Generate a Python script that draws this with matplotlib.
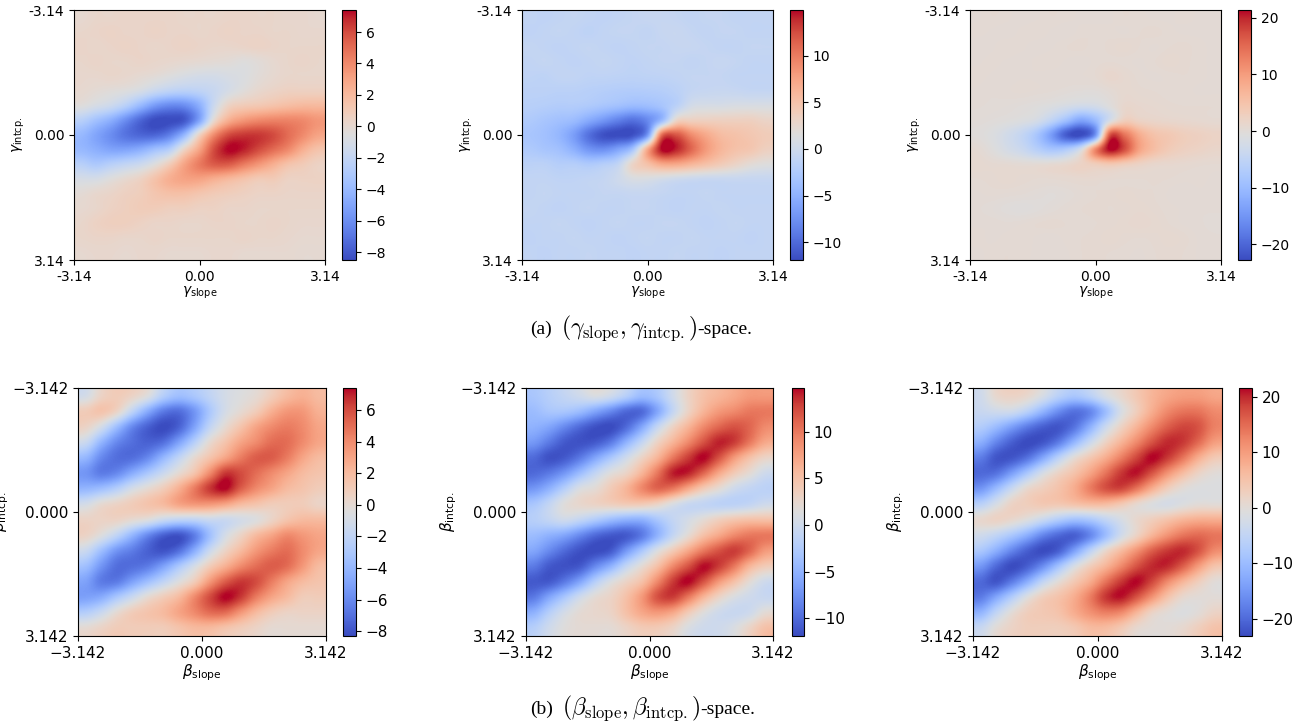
import matplotlib.pyplot as plt
from matplotlib.ticker import MultipleLocator
import numpy as np

PI = np.pi

# sampled gradient fields, rows run from -pi (top) to +pi (bottom)
gamma_1 = [
    [0.0, 0.2, 0.2, 0.3, 0.3, 0.3, 0.3, 0.2, 0.2, 0.2, 0.3, 0.3, 0.2, 0.2, 0.1, 0.1, 0.0],
    [0.2, 0.3, 0.4, 0.3, 0.3, 0.4, 0.3, 0.3, 0.2, 0.3, 0.4, 0.3, 0.3, 0.2, 0.2, 0.1, 0.1],
    [0.3, 0.2, 0.3, 0.4, 0.3, 0.2, 0.3, 0.4, 0.3, 0.2, 0.2, 0.3, 0.4, 0.3, 0.2, 0.2, 0.2],
    [0.2, 0.3, 0.2, 0.2, 0.3, 0.2, 0.1, 0.0, -0.1, -0.2, -0.3, -0.5, -0.3, 0.0, 0.2, 0.3, 0.2],
    [0.1, 0.1, 0.2, 0.1, -0.1, -0.3, -0.6, -0.9, -1.1, -1.1, -0.9, -0.7, -0.3, 0.0, 0.2, 0.2, 0.2],
    [0.0, -0.2, -0.4, -0.6, -1.0, -1.7, -2.2, -2.4, -2.2, -1.7, -1.0, -0.4, 0.1, 0.4, 0.6, 0.6, 0.6],
    [-0.5, -1.0, -1.5, -2.5, -4.0, -5.5, -6.2, -6.0, -4.5, -1.5, 0.5, 1.0, 1.2, 1.5, 1.8, 2.0, 2.0],
    [-2.5, -3.5, -4.5, -6.0, -7.5, -8.5, -8.5, -8.0, -5.0, 0.0, 2.5, 3.5, 4.0, 4.2, 4.2, 4.0, 3.5],
    [-4.0, -5.0, -6.0, -7.0, -7.5, -7.5, -6.5, -4.0, 0.5, 4.0, 6.0, 6.5, 6.5, 6.0, 5.0, 4.0, 3.0],
    [-4.0, -4.5, -5.0, -5.0, -4.5, -3.5, -2.5, 0.5, 3.0, 6.0, 7.4, 7.0, 6.0, 5.0, 4.0, 2.5, 1.5],
    [-2.5, -3.0, -2.5, -2.0, -1.5, -0.5, 1.0, 3.0, 4.5, 5.5, 5.5, 4.5, 3.5, 2.5, 1.5, 1.0, 0.5],
    [-1.0, -1.0, -0.5, 0.0, 0.5, 1.5, 2.5, 3.0, 3.0, 2.5, 2.0, 1.5, 1.0, 1.0, 0.5, 0.5, 0.5],
    [-0.2, 0.1, 0.3, 0.6, 0.8, 1.3, 1.6, 1.6, 1.3, 1.0, 0.8, 0.6, 0.4, 0.4, 0.3, 0.3, 0.3],
    [0.0, 0.2, 0.5, 0.7, 0.9, 0.9, 0.7, 0.7, 0.5, 0.5, 0.3, 0.3, 0.2, 0.2, 0.2, 0.2, 0.2],
    [0.2, 0.5, 0.7, 0.7, 0.5, 0.3, 0.3, 0.2, 0.2, 0.3, 0.3, 0.2, 0.2, 0.3, 0.2, 0.1, 0.1],
    [0.2, 0.3, 0.3, 0.2, 0.2, 0.3, 0.2, 0.2, 0.2, 0.2, 0.2, 0.3, 0.2, 0.2, 0.1, 0.0, 0.0],
    [0.0, 0.1, 0.1, 0.0, 0.1, 0.1, 0.0, 0.0, 0.0, 0.1, 0.1, 0.0, 0.0, 0.0, 0.0, -0.1, -0.1],
]

gamma_2 = [
    [-1.0, -1.2, -1.0, -0.8, -1.0, -1.2, -1.0, -0.8, -0.6, -0.6, -0.8, -1.0, -0.8, -0.8, -1.0, -1.0, -1.0],
    [-1.2, -1.0, -0.8, -1.0, -1.3, -1.0, -0.8, -0.8, -1.0, -0.6, -0.5, -0.8, -1.0, -0.8, -0.8, -1.0, -1.0],
    [-0.8, -1.0, -1.2, -1.0, -0.8, -1.0, -1.2, -1.0, -0.8, -0.8, -0.6, -0.6, -0.8, -1.0, -1.0, -0.8, -0.8],
    [-1.0, -0.8, -1.0, -1.2, -1.0, -0.8, -1.0, -1.2, -1.0, -0.8, -0.8, -1.0, -0.8, -0.6, -0.8, -1.0, -1.0],
    [-1.2, -1.3, -1.0, -1.0, -1.2, -1.2, -1.3, -1.4, -1.3, -1.2, -1.0, -0.8, -0.8, -0.8, -1.0, -1.0, -1.0],
    [-1.5, -1.5, -1.6, -1.6, -1.8, -2.0, -2.2, -2.3, -2.2, -2.0, -1.5, -0.8, -0.6, -0.5, -0.6, -0.8, -0.8],
    [-1.8, -2.0, -2.2, -2.2, -2.5, -3.0, -3.5, -4.0, -3.8, -3.0, -1.5, 0.5, 0.8, 0.8, 1.0, 1.0, 1.0],
    [-2.5, -3.0, -3.5, -4.0, -5.5, -7.0, -8.5, -9.5, -8.0, -4.0, 3.0, 3.5, 3.5, 3.5, 3.5, 3.5, 3.0],
    [-3.0, -3.5, -4.5, -6.5, -9.5, -11.5, -11.9, -11.5, -7.0, 11.0, 12.0, 9.0, 7.0, 5.5, 5.0, 4.5, 4.0],
    [-2.5, -3.0, -3.5, -5.0, -7.0, -7.5, -6.0, -3.0, 7.0, 14.9, 14.0, 11.0, 8.0, 6.0, 5.0, 4.5, 3.5],
    [-1.5, -1.5, -2.0, -2.0, -2.5, -2.0, -1.0, 3.0, 5.0, 7.0, 7.0, 6.0, 5.0, 4.0, 3.0, 2.0, 1.5],
    [-1.0, -1.0, -1.2, -1.2, -1.0, -0.8, 0.0, 1.0, 1.0, 0.5, 0.0, -0.3, -0.5, -0.5, -0.5, -0.6, -0.6],
    [-1.0, -0.8, -1.0, -1.0, -1.0, -0.8, -0.8, -0.6, -0.6, -0.8, -1.0, -1.0, -0.8, -1.0, -1.0, -1.0, -1.0],
    [-0.8, -1.0, -1.2, -1.0, -0.8, -1.0, -1.0, -0.8, -0.8, -1.0, -1.2, -1.0, -1.0, -0.8, -1.0, -1.0, -1.0],
    [-1.0, -1.0, -0.8, -1.0, -1.2, -1.0, -0.8, -1.0, -1.0, -0.8, -0.8, -1.0, -1.2, -1.0, -0.8, -1.0, -1.0],
    [-1.2, -1.0, -1.0, -0.8, -1.0, -1.0, -1.2, -1.0, -0.8, -1.0, -1.0, -0.8, -1.0, -1.0, -1.0, -1.2, -1.0],
    [-1.0, -1.2, -1.0, -1.0, -0.8, -1.0, -1.0, -1.2, -1.0, -1.0, -0.8, -1.0, -1.0, -1.2, -1.0, -1.0, -1.0],
]

gamma_3 = [
    [0.3, 0.5, 0.4, 0.2, 0.3, 0.5, 0.4, 0.3, 0.2, 0.3, 0.5, 0.4, 0.3, 0.3, 0.4, 0.3, 0.2],
    [0.4, 0.3, 0.2, 0.4, 0.5, 0.3, 0.2, 0.4, 0.5, 0.4, 0.3, 0.5, 0.6, 0.4, 0.3, 0.3, 0.3],
    [0.2, 0.3, 0.5, 0.4, 0.2, 0.3, 0.5, 0.6, 0.4, 0.6, 0.8, 0.5, 0.3, 0.5, 0.6, 0.4, 0.3],
    [0.3, 0.4, 0.3, 0.2, 0.4, 0.5, 0.3, 0.2, 0.4, 0.5, 0.4, 0.3, 0.5, 0.8, 0.6, 0.4, 0.3],
    [0.4, 0.3, 0.2, 0.3, 0.3, 0.2, 0.2, 0.3, 0.5, 1.2, 0.8, 0.4, 0.3, 0.4, 0.5, 0.4, 0.3],
    [0.3, 0.2, 0.3, 0.4, 0.3, 0.2, 0.0, -0.2, -0.2, 0.3, 0.8, 0.6, 0.5, 0.4, 0.4, 0.3, 0.3],
    [0.2, 0.1, 0.0, -0.2, -0.5, -1.0, -1.8, -2.5, -2.2, -0.5, 1.2, 1.0, 0.8, 0.6, 0.5, 0.5, 0.5],
    [0.0, -0.2, -0.5, -1.0, -2.0, -5.0, -9.0, -13.0, -10.0, -2.0, 3.0, 2.0, 1.5, 1.2, 1.0, 0.8, 0.6],
    [-0.3, -1.0, -2.5, -4.5, -8.0, -14.0, -21.0, -22.8, -15.0, 17.0, 14.0, 8.0, 5.0, 4.0, 3.0, 2.5, 2.0],
    [0.5, -0.5, -2.0, -3.5, -6.0, -8.0, -7.0, -2.0, 12.0, 21.4, 17.0, 9.0, 5.5, 3.5, 2.5, 2.0, 1.5],
    [0.8, 0.6, 0.5, 0.3, 0.3, 0.5, 1.0, 2.0, 3.0, 4.0, 3.0, 2.0, 1.2, 1.0, 0.8, 0.6, 0.5],
    [0.5, 0.6, 0.8, 0.6, 0.5, 0.5, 0.6, 0.8, 0.8, 0.6, 0.5, 0.5, 0.6, 0.5, 0.4, 0.4, 0.3],
    [0.3, 0.4, 0.3, 0.2, 0.0, -0.2, 0.0, 0.3, 0.5, 0.6, 0.8, 0.6, 0.5, 0.3, 0.2, 0.3, 0.3],
    [0.2, 0.0, -0.3, -0.5, -0.3, 0.0, 0.3, 0.5, 0.6, 0.5, 0.6, 0.8, 0.6, 0.4, 0.3, 0.2, 0.2],
    [0.3, 0.3, 0.2, 0.3, 0.5, 0.6, 0.5, 0.4, 0.5, 0.6, 0.8, 1.0, 0.8, 0.5, 0.3, 0.2, 0.1],
    [0.4, 0.3, 0.4, 0.5, 0.3, 0.2, 0.4, 0.5, 0.6, 0.8, 0.6, 0.5, 0.6, 0.8, 0.6, 0.3, 0.2],
    [0.3, 0.4, 0.5, 0.4, 0.3, 0.2, 0.3, 0.5, 0.6, 0.5, 0.4, 0.3, 0.5, 0.6, 0.5, 0.3, 0.2],
]

beta_1 = [
    [-1.0, 0.5, 1.0, 0.5, -0.5, -2.5, -3.5, -3.0, -2.0, -1.0, -0.5, 0.0, 1.0, 2.0, 2.5, 2.0],
    [1.0, 1.5, 0.5, -2.0, -4.5, -6.5, -7.0, -5.5, -3.0, -1.0, 0.0, 1.0, 2.5, 3.5, 3.5, 2.5],
    [0.5, -1.0, -3.5, -6.0, -7.5, -8.3, -7.5, -5.0, -2.0, 0.0, 1.5, 3.0, 4.0, 4.5, 4.0, 3.0],
    [-1.5, -4.0, -6.0, -7.0, -7.5, -7.0, -5.0, -2.5, 0.0, 1.5, 3.0, 4.0, 5.0, 5.0, 4.0, 3.0],
    [-4.0, -6.0, -7.0, -7.0, -6.0, -4.0, -2.0, 0.0, 1.5, 3.0, 4.5, 5.5, 5.5, 4.5, 3.0, 2.0],
    [-5.5, -6.5, -6.0, -4.5, -3.0, -1.5, 0.0, 1.5, 4.0, 6.5, 6.0, 5.0, 4.0, 3.0, 2.0, 1.5],
    [-4.0, -3.5, -2.5, -1.0, 0.0, 1.0, 2.5, 4.5, 6.5, 7.4, 5.5, 4.0, 3.0, 2.0, 1.5, 1.0],
    [-1.0, 0.0, 0.5, 1.0, 1.5, 2.0, 3.0, 3.5, 3.5, 3.0, 2.0, 1.5, 1.0, 1.0, 1.0, 0.5],
    [0.5, 0.5, 0.5, 0.0, -0.5, -1.5, -2.0, -2.0, -1.5, -1.5, -1.0, -0.5, 0.5, 1.5, 2.0, 2.0],
    [0.5, -0.5, -2.0, -4.0, -6.0, -7.5, -8.0, -6.5, -3.5, -1.0, 0.5, 2.0, 3.0, 4.0, 3.5, 3.0],
    [-1.5, -3.5, -5.5, -6.5, -7.5, -8.0, -7.0, -4.5, -1.5, 0.5, 2.0, 3.5, 4.5, 5.0, 4.0, 3.0],
    [-3.5, -5.5, -7.0, -7.0, -6.5, -5.0, -3.0, -1.0, 1.0, 2.5, 4.0, 5.0, 5.5, 5.0, 3.5, 2.0],
    [-5.0, -6.5, -6.5, -5.0, -3.5, -2.0, -0.5, 1.0, 3.5, 5.5, 6.5, 6.0, 4.5, 3.0, 2.0, 1.5],
    [-5.0, -4.5, -3.0, -1.5, 0.0, 1.0, 2.0, 4.0, 6.0, 7.4, 6.5, 4.5, 3.0, 2.0, 1.0, 1.0],
    [-2.5, -1.5, 0.0, 1.0, 1.5, 2.0, 3.0, 4.0, 5.0, 5.0, 3.5, 2.0, 1.0, 0.5, 0.5, 0.5],
    [0.0, 0.5, 1.0, 1.0, 1.0, 1.0, 1.5, 2.0, 2.0, 1.5, 1.0, 0.5, 0.0, 0.0, 0.0, 0.0],
]

beta_2 = [
    [-3, -2, -1, 0, 1, 0, -2, -4, -3, 0, 3, 5, 6, 7, 8, 8],
    [-4, -3, -3, -4, -6, -8, -10, -10, -6, -1, 3, 6, 8, 9, 10, 10],
    [-5, -6, -8, -10, -11.5, -11.9, -10, -6, -1, 3, 6, 9, 11, 12, 11, 9],
    [-7, -9, -11, -11.5, -11, -9, -5, -1, 3, 6, 9, 12, 14, 13, 10, 7],
    [-10, -11.5, -11, -9, -6, -3, 0, 3, 6, 10, 13, 14.7, 12, 8, 5, 3],
    [-10, -9, -7, -4, -1, 1.5, 3, 6, 10, 14, 14, 11, 7, 4, 2, 0],
    [-7, -5, -2, 1, 2, 4, 6, 9, 11, 10, 7, 4, 2, 0, -1, -1.5],
    [-3, -1, 1.5, 2.5, 3, 3.5, 4, 4, 3, 1, -0.5, -1, -1.5, -1.5, -1, 0],
    [-2, -1, 0, -1, -2.5, -4, -5, -5, -3, -1, 0.5, 2, 3.5, 4.5, 5, 5],
    [-4, -5, -6, -8, -10, -11, -11, -9, -5, -1, 2, 5, 7, 9, 10, 10],
    [-6, -8, -10, -11.5, -11.9, -11, -7, -3, 1, 4, 7, 10, 12, 13, 11, 8],
    [-9, -11, -11.5, -11, -8, -5, -1, 2, 5, 9, 12, 14.5, 13, 10, 6, 4],
    [-11, -11, -9, -6, -2, 1, 3, 5, 9, 13, 14.7, 12, 8, 5, 2, 0],
    [-9, -6, -3, 0, 2, 3, 5, 8, 12, 13, 10, 6, 3, 1, 0, -0.5],
    [-5, -2, 0.5, 2, 2.5, 3, 5, 7, 8, 7, 4, 1.5, 0, -0.5, 0, 2],
    [-2, 0, 1.5, 2, 2, 2, 3, 4, 4, 3, 1, 0, 0, 1, 3, 5],
]

beta_3 = [
    [-3, 1, 2, 1, -2, -6, -8, -6, -2, 1, 4, 7, 9, 10, 10, 9],
    [-4, -3, -3, -6, -11, -16, -19, -17, -10, -2, 3, 8, 12, 14, 14, 12],
    [-7, -10, -14, -18, -21, -22, -19, -12, -4, 2, 7, 12, 16, 18, 17, 13],
    [-12, -17, -21, -23.1, -22, -18, -11, -4, 2, 7, 12, 17, 20, 19, 15, 10],
    [-18, -22, -22, -19, -13, -6, 0, 4, 8, 13, 18, 21.6, 19, 14, 8, 4],
    [-20, -19, -14, -8, -2, 2, 5, 9, 14, 19, 21, 17, 11, 6, 2, 0],
    [-15, -10, -4, 1, 3, 5, 8, 13, 17, 18, 14, 8, 3, 0, -1, -1],
    [-6, -2, 2, 3, 4, 4, 5, 6, 6, 4, 1, -1, -2, -1, 0, 0],
    [1, 2, 1, -1, -4, -7, -9, -8, -5, -2, 1, 3, 5, 7, 8, 8],
    [-3, -5, -8, -12, -17, -20, -21, -17, -10, -3, 2, 7, 11, 14, 15, 14],
    [-8, -12, -17, -21, -23, -21, -14, -6, 1, 6, 11, 16, 19, 20, 17, 12],
    [-15, -20, -23, -21, -16, -9, -2, 3, 7, 12, 17, 20, 20, 16, 10, 5],
    [-20, -22, -18, -12, -5, 0, 4, 8, 14, 19, 21.5, 18, 12, 7, 3, 0],
    [-18, -13, -7, -1, 3, 5, 8, 13, 19, 21, 17, 11, 5, 1, 0, 0],
    [-11, -5, 0, 3, 4, 5, 8, 11, 13, 12, 7, 2, 0, -1, 0, 2],
    [-4, 0, 2, 3, 3, 3, 4, 6, 6, 4, 1, 0, 0, 1, 3, 5],
]

top_fields = [gamma_1, gamma_2, gamma_3]
bottom_fields = [beta_1, beta_2, beta_3]
cbar_steps = [2, 5, 10]

W, H = 1307, 723
fig = plt.figure(figsize=(W / 100, H / 100), dpi=100)


def box(x0, x1, y0, y1):
    # pixel box -> figure fraction
    return [x0 / W, 1 - y1 / H, (x1 - x0) / W, (y1 - y0) / H]


def panel(field, ax_px, cb_px, sym, ticklabels, step, fs):
    ax = fig.add_axes(box(*ax_px))
    im = ax.imshow(np.array(field, dtype=float), cmap='coolwarm',
                   extent=[-PI, PI, PI, -PI], interpolation='catrom',
                   aspect='auto')
    ax.set_xticks([-PI, 0, PI])
    ax.set_yticks([-PI, 0, PI])
    ax.set_xticklabels(ticklabels, fontsize=fs)
    ax.set_yticklabels(ticklabels, fontsize=fs)
    ax.set_xlabel(r'$\%s_{\mathrm{slope}}$' % sym, fontsize=fs, labelpad=1)
    ax.set_ylabel(r'$\%s_{\mathrm{intcp.}}$' % sym, fontsize=fs, labelpad=1)
    cax = fig.add_axes(box(*cb_px))
    cb = fig.colorbar(im, cax=cax)
    cb.ax.yaxis.set_major_locator(MultipleLocator(step))
    cb.ax.tick_params(labelsize=fs)
    return ax


top_labels = ['-3.14', '0.00', '3.14']
bot_labels = ['\u22123.142', '0.000', '3.142']

top_axes = [(74, 325), (522, 773), (970, 1221)]
top_cbars = [(342, 356), (790, 803), (1238, 1251)]
bot_axes = [(78, 326), (526, 773), (973, 1222)]
bot_cbars = [(343, 356), (792, 804), (1239, 1252)]

for f, (a0, a1), (c0, c1), s in zip(top_fields, top_axes, top_cbars, cbar_steps):
    panel(f, (a0, a1, 10, 260), (c0, c1, 10, 260), 'gamma', top_labels, s, 10)

for f, (a0, a1), (c0, c1), s in zip(bottom_fields, bot_axes, bot_cbars, cbar_steps):
    panel(f, (a0, a1, 388, 636), (c0, c1, 388, 636), 'beta', bot_labels, s, 11)


def caption(xc, base_y, tag, sym):
    # sub-figure caption: serif text with a cm-style math part, laid out left to right
    txt = dict(family='Liberation Serif', fontsize=14)
    mth = dict(math_fontfamily='cm', fontsize=17)
    parts = [(tag, txt, 9),
             (r'$(\%s_{\rm slope}, \%s_{\rm intcp.})$' % (sym, sym), mth, 0),
             ('-space.', txt, 0)]
    r = fig.canvas.get_renderer()
    objs, widths = [], []
    for s, kw, gap in parts:
        t = fig.text(0, 1 - base_y / H, s, ha='left', va='baseline', **kw)
        objs.append(t)
        widths.append(t.get_window_extent(renderer=r).width + gap)
    x = xc - sum(widths) / 2
    for t, w in zip(objs, widths):
        t.set_x(x / W)
        x += w


caption(641, 334, '(a)', 'gamma')
caption(643, 714, '(b)', 'beta')

fig.savefig('out.png', dpi=100)
